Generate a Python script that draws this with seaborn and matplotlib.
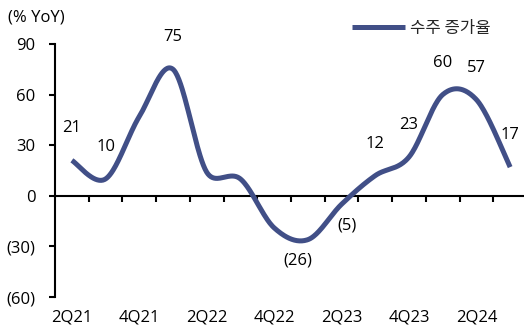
import numpy as np
import pandas as pd
import matplotlib
matplotlib.use("Agg")
import matplotlib.pyplot as plt
import seaborn as sns

# Quarterly order growth (% YoY)
quarters = ["2Q21", "3Q21", "4Q21", "1Q22", "2Q22", "3Q22", "4Q22",
            "1Q23", "2Q23", "3Q23", "4Q23", "1Q24", "2Q24", "3Q24"]
order_growth = [21, 10, 47, 75, 14, 10, -19, -26, -5, 12, 23, 60, 57, 17]
labelled = ["2Q21", "3Q21", "1Q22", "1Q23", "2Q23", "3Q23",
            "4Q23", "1Q24", "2Q24", "3Q24"]
tick_labels = ["2Q21", "4Q21", "2Q22", "4Q22", "2Q23", "4Q23", "2Q24"]
y_ticks = [-60, -30, 0, 30, 60, 90]
series_name = "수주 증가율"

LINE = "#414F87"
FONT = ["Open Sans", "Noto Sans CJK KR", "DejaVu Sans"]
KR_FONT = ["Noto Sans CJK KR", "DejaVu Sans"]
FS = 12

W, H = 524, 328
AX_L, AX_R, AX_T, AX_B = 55, 527, 44, 297
Y_MIN, Y_MAX = -60, 90

sns.set_theme(style="white")
plt.rcParams["font.family"] = FONT
plt.rcParams["font.size"] = FS


def smooth_curve(values, px_x, px_y, steps=40):
    """Bezier smoothing (handles 1/6 of neighbour chord, capped at half
    the segment length), evaluated in screen proportions."""
    pts = np.column_stack([np.arange(len(values)) * px_x,
                           np.asarray(values, float) * px_y])
    n = len(pts)
    out = []
    for i in range(n - 1):
        p0 = pts[max(i - 1, 0)]
        p1, p2 = pts[i], pts[i + 1]
        p3 = pts[min(i + 2, n - 1)]
        d12 = np.hypot(*(p2 - p1))
        d02 = np.hypot(*(p2 - p0))
        d13 = np.hypot(*(p3 - p1))
        f1 = 1 / 6 if d02 / 6 < d12 / 2 else d12 / (2 * d02)
        f2 = 1 / 6 if d13 / 6 < d12 / 2 else d12 / (2 * d13)
        c1 = p1 + f1 * (p2 - p0)
        c2 = p2 - f2 * (p3 - p1)
        t = np.linspace(0, 1, steps, endpoint=(i == n - 2))[:, None]
        seg = ((1 - t) ** 3) * p1 + 3 * ((1 - t) ** 2) * t * c1 \
            + 3 * (1 - t) * t ** 2 * c2 + t ** 3 * p2
        out.append(seg)
    out = np.vstack(out)
    return out[:, 0] / px_x, out[:, 1] / px_y


px_x = (AX_R - AX_L) / len(quarters)
px_y = (AX_B - AX_T) / (Y_MAX - Y_MIN)
sx, sy = smooth_curve(order_growth, px_x, px_y)
curve = pd.DataFrame({"x": sx, "y": sy})

fig = plt.figure(figsize=(W / 100, H / 100), dpi=100)
ax = fig.add_axes([AX_L / W, (H - AX_B) / H, (AX_R - AX_L) / W,
                   (AX_B - AX_T) / H])

sns.lineplot(data=curve, x="x", y="y", ax=ax, color=LINE, linewidth=3.6,
             sort=False, label=series_name, solid_capstyle="butt")

ax.set_xlim(-0.5, len(quarters) - 0.5)
ax.set_ylim(Y_MIN, Y_MAX)
ax.set_xlabel("")
ax.set_ylabel("")

# axes
for side in ["top", "right"]:
    ax.spines[side].set_visible(False)
for side in ["left", "bottom"]:
    ax.spines[side].set_color("black")
    ax.spines[side].set_linewidth(1.5)
    ax.spines[side].set_zorder(1)
ax.spines["bottom"].set_position(("data", 0))

ax.set_yticks(y_ticks)
ax.set_yticklabels([f"({abs(v)})" if v < 0 else f"{v}" for v in y_ticks])
ax.tick_params(axis="y", which="major", left=True, length=4, width=1.5,
               direction="out", color="black", pad=10, labelsize=FS,
               labelcolor="black")

ax.set_xticks([])
ax.set_xticks(np.arange(0.5, len(quarters) - 1, 1), minor=True)
ax.tick_params(axis="x", which="minor", bottom=True, length=4, width=1.5,
               direction="out", color="black")

sec = ax.secondary_xaxis(0)
sec.set_xticks([quarters.index(q) for q in tick_labels])
sec.set_xticklabels(tick_labels)
sec.tick_params(axis="x", length=0, pad=9, labelsize=FS, labelcolor="black")
sec.spines["bottom"].set_visible(False)

# value labels
for q, v in zip(quarters, order_growth):
    if q not in labelled:
        continue
    i = quarters.index(q)
    if v < 0:
        txt = f"({abs(v)})"
        dx = -7 if v < -10 else 4
        dy = -15
    else:
        txt = f"{v}"
        dx, dy = 0, 23
    ax.annotate(txt, xy=(i, v), xytext=(dx, dy), textcoords="offset points",
                ha="center", va="center", fontsize=FS, color="black")

fig.text(8 / W, 1 - 17 / H, "(% YoY)", ha="left", va="center",
         fontsize=FS, color="black")

leg = ax.legend(loc="center left", bbox_to_anchor=(352 / W, 1 - 28 / H),
                bbox_transform=fig.transFigure, frameon=False, borderpad=0,
                borderaxespad=0, handlelength=3.2, handletextpad=0.3,
                prop={"family": KR_FONT, "size": 12})
for h in leg.get_lines():
    h.set_linewidth(3.6)

fig.savefig("out.png", dpi=100)
